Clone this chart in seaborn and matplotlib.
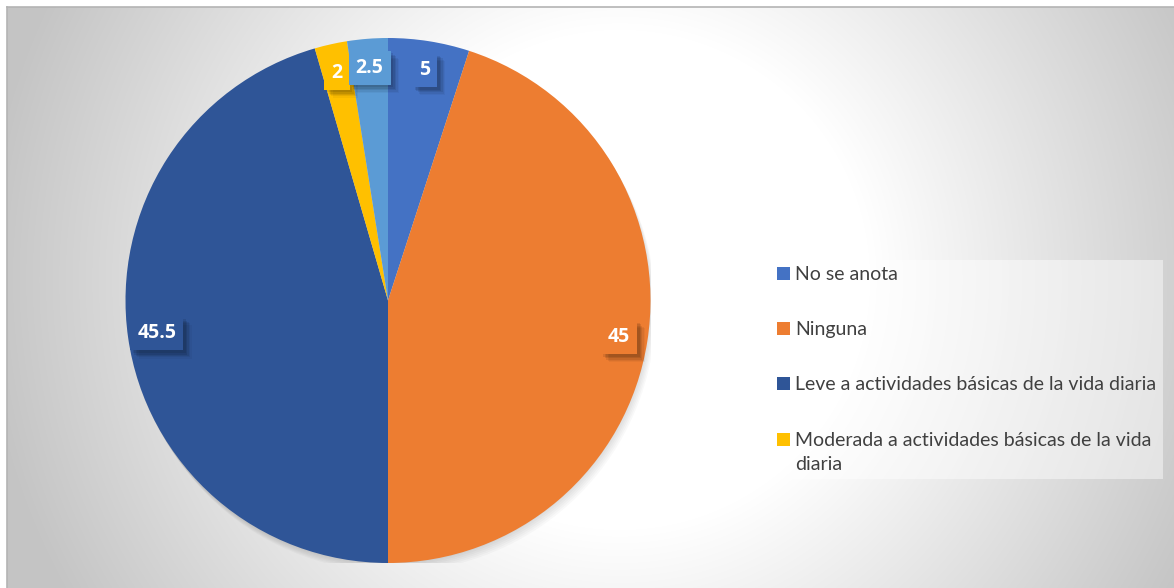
import numpy as np
import matplotlib
matplotlib.use("Agg")
import matplotlib.pyplot as plt
import matplotlib.patheffects as pe
from matplotlib.patches import Circle
from matplotlib.legend_handler import HandlerPatch
import seaborn as sns

# Slice data, clockwise from 12 o'clock
slice_values = [5, 45, 45.5, 2, 2.5]
slice_colors = ["#4472C4", "#ED7D31", "#2F5597", "#FFC000", "#5B9BD5"]
legend_labels = [
    "No se anota",
    "Ninguna",
    "Leve a actividades básicas de la vida diaria",
    "Moderada a actividades básicas de la vida\ndiaria",
]

sns.set_theme(style="white")
plt.rcParams["font.family"] = ["Lato", "DejaVu Sans"]

W, H = 1174, 588
fig = plt.figure(figsize=(W / 100, H / 100), dpi=100)
fig.patch.set_facecolor("white")

# Radial grey-to-white background of the chart area
bg = fig.add_axes([7 / W, 0, (W - 7) / W, (H - 7) / H])
xs = np.arange(7, W) + 0.5
ys = np.arange(7, H) + 0.5
X, Y = np.meshgrid(xs, ys)
d = np.hypot(X - 620, Y - 280)
fade = np.clip((d - 250) / (640 - 250), 0, 1)
shade = 255 - (255 - 196) * fade
bg.imshow(np.dstack([shade / 255] * 3), extent=[7, W, H, 7], aspect="auto",
          interpolation="bilinear")
bg.set_xticks([])
bg.set_yticks([])
for side in ("right", "bottom"):
    bg.spines[side].set_visible(False)
for side in ("top", "left"):
    bg.spines[side].set_color("#b4b4b4")
    bg.spines[side].set_linewidth(1.2)

# Pie axes
ax = fig.add_axes([125.5 / W, 25 / H, 525 / W, 525 / H])
ax.patch.set_alpha(0)

# soft drop shadow under the pie
for i in range(6):
    ax.add_patch(Circle((0.004 * i, -0.006 * i - 0.004), 1.0,
                        fc="black", ec="none", alpha=0.025, zorder=0))

wedges, _, autotexts = ax.pie(
    slice_values,
    colors=slice_colors,
    startangle=90,
    counterclock=False,
    autopct="%.4g",
    pctdistance=0.89,
    wedgeprops=dict(linewidth=0),
)
ax.set_xlim(-1, 1)
ax.set_ylim(-1, 1)
ax.set_aspect("equal")
ax.axis("off")

shadow = [
    pe.SimplePatchShadow(offset=(2, -2), shadow_rgbFace="black", alpha=0.09),
    pe.SimplePatchShadow(offset=(3, -3), shadow_rgbFace="black", alpha=0.09),
    pe.SimplePatchShadow(offset=(4, -4), shadow_rgbFace="black", alpha=0.08),
    pe.SimplePatchShadow(offset=(5, -5), shadow_rgbFace="black", alpha=0.06),
    pe.SimplePatchShadow(offset=(6, -6), shadow_rgbFace="black", alpha=0.04),
    pe.Normal(),
]
for t, v, c in zip(autotexts, slice_values, slice_colors):
    t.set_text(f"{v:g}")
    t.set_color("white")
    t.set_family(["Open Sans", "DejaVu Sans"])
    t.set_fontsize(14)
    t.set_fontweight("bold")
    t.set_bbox(dict(boxstyle="square,pad=0.36", fc=c, ec="none"))
    t.get_bbox_patch().set_path_effects(shadow)


class HandlerFirstLine(HandlerPatch):
    """Patch handle aligned with the first line of a wrapped label."""

    def __init__(self, lift, **kw):
        super().__init__(**kw)
        self.lift = lift

    def create_artists(self, legend, orig_handle, xdescent, ydescent,
                       width, height, fontsize, trans):
        arts = super().create_artists(legend, orig_handle, xdescent, ydescent,
                                      width, height, fontsize, trans)
        for a in arts:
            a.set_y(a.get_y() + self.lift)
        return arts


leg = fig.legend(
    wedges[:4], legend_labels,
    loc="upper left",
    bbox_to_anchor=(771 / W, 1 - 260 / H),
    bbox_transform=fig.transFigure,
    frameon=True, fancybox=False,
    facecolor="white", framealpha=0.45, edgecolor="none",
    fontsize=14, labelcolor="#404040",
    handlelength=0.68, handleheight=0.68, handletextpad=0.25,
    labelspacing=1.96, borderpad=0.32, borderaxespad=0,
    handler_map={wedges[3]: HandlerFirstLine(9)},
)
leg.get_texts()[3].set_linespacing(1.5)

fig.savefig("out.png", dpi=100)
